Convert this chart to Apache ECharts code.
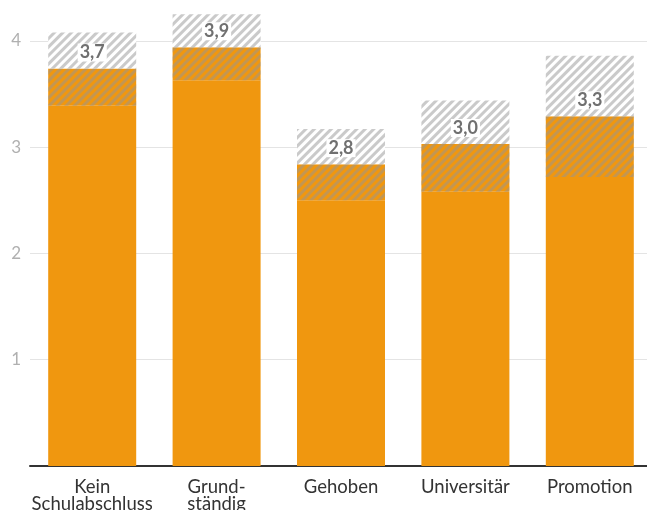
<!DOCTYPE html>
<html>
<head>
<meta charset="utf-8">
<script src="https://cdn.jsdelivr.net/npm/echarts@6/dist/echarts.min.js"></script>
<style>html,body{margin:0;padding:0;background:#fff}#c{width:647px;height:510px}</style>
</head>
<body>
<div id="c"></div>
<script>
const categories = ['Kein\nSchulabschluss', 'Grund-\nständig', 'Gehoben', 'Universitär', 'Promotion'];
const lowerValues = [3.39, 3.63, 2.50, 2.58, 2.72];
const meanValues = [3.74, 3.94, 2.84, 3.03, 3.29];
const upperValues = [4.08, 4.25, 3.17, 3.44, 3.86];
const yTicks = [1, 2, 3, 4];

const orange = '#f0970f';
const hatch = {
  symbol: 'rect', symbolSize: 1,
  dashArrayX: [[1, 0]], dashArrayY: [3, 2.5],
  rotation: -Math.PI / 4,
  color: 'rgba(150,150,150,0.5)'
};
const font = 'Lato, "Open Sans", sans-serif';

const chart = echarts.init(document.getElementById('c'), null, {renderer: 'canvas'});
chart.setOption({
  animation: false,
  grid: {left: 30, top: 9, right: -5, bottom: 44, outerBoundsMode: 'none', containLabel: false},
  xAxis: {
    type: 'category', data: categories,
    axisLine: {lineStyle: {color: '#333', width: 2}},
    axisTick: {show: false},
    axisLabel: {color: '#333', fontSize: 18.5, fontFamily: font, margin: 13, lineHeight: 17, interval: 0}
  },
  yAxis: {
    type: 'value', min: 0, max: 4.3, interval: 1,
    axisLine: {show: false}, axisTick: {show: false},
    axisLabel: {color: '#b0b0b0', fontSize: 17, fontFamily: font, margin: 9,
      customValues: yTicks},
    splitLine: {lineStyle: {color: '#e4e4e4', width: 1}, showMaxLine: false}
  },
  series: [
    {type: 'bar', stack: 's', barWidth: 88, data: lowerValues,
     itemStyle: {color: orange}},
    {type: 'bar', stack: 's', barWidth: 88,
     data: meanValues.map((m, i) => +(m - lowerValues[i]).toFixed(4)),
     itemStyle: {color: orange, decal: hatch}},
    {type: 'bar', stack: 's', barWidth: 88,
     data: upperValues.map((u, i) => +(u - meanValues[i]).toFixed(4)),
     itemStyle: {color: '#fff', decal: hatch},
     label: {show: true, position: 'insideBottom', distance: 7,
       formatter: p => meanValues[p.dataIndex].toFixed(1).replace('.', ','),
       color: '#707070', fontWeight: 'bold', fontSize: 18, fontFamily: font,
       backgroundColor: '#fff', padding: [0, 2]}}
  ]
});
</script>
</body>
</html>
